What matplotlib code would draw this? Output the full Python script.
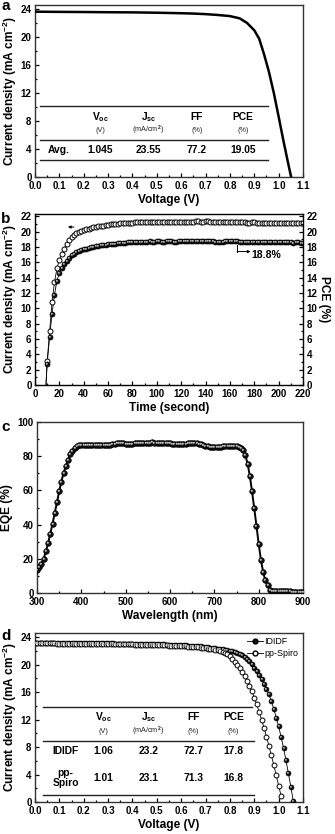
import numpy as np
import matplotlib
matplotlib.use("Agg")
import matplotlib.pyplot as plt
from matplotlib.markers import MarkerStyle
from matplotlib.transforms import Affine2D
from matplotlib.ticker import MultipleLocator, FormatStrFormatter

plt.rcParams['font.family'] = ['Liberation Sans', 'DejaVu Sans']
plt.rcParams['font.weight'] = 'bold'
plt.rcParams['axes.labelweight'] = 'bold'
plt.rcParams['mathtext.fontset'] = 'custom'
plt.rcParams['mathtext.rm'] = 'Liberation Sans:bold'
plt.rcParams['mathtext.bf'] = 'Liberation Sans:bold'
plt.rcParams['mathtext.it'] = 'Liberation Sans:bold'

# ---------------- data ----------------
# panel a: J-V curve
a_voltage = [0.0, 0.1, 0.2, 0.3, 0.4, 0.5, 0.6, 0.65, 0.7, 0.75, 0.8, 0.84, 0.87, 0.9,
             0.92, 0.94, 0.96, 0.98, 1.0, 1.02, 1.04, 1.05, 1.055]
a_current = [23.55, 23.52, 23.5, 23.47, 23.45, 23.4, 23.33, 23.28, 23.2, 23.08, 22.92, 22.6,
             21.95, 20.9, 19.7, 17.5, 15.0, 12.0, 8.6, 5.1, 1.8, 0.2, -0.6]
a_table_cols = ['V$_{oc}$', 'J$_{sc}$', 'FF', 'PCE']
a_table_units = ['(V)', '(mA/cm$^2$)', '(%)', '(%)']
a_table_rows = ['Avg.']
a_table_vals = [['1.045', '23.55', '77.2', '19.05']]

# panel b: stabilised output
b_time = [9] + list(range(10, 221, 2))
b_current = [0.0,
    3.1, 7.0, 10.8, 13.4, 15.2, 16.3, 17.1, 17.8, 18.4, 18.9,
    19.3, 19.6, 19.8, 20.0, 20.1, 20.2, 20.3, 20.4, 20.5, 20.55,
    20.6, 20.7, 20.75, 20.8, 20.85, 20.9, 20.95, 21.0, 21.0, 21.05,
    21.1, 21.1, 21.1, 21.15, 21.15, 21.15, 21.2, 21.2, 21.2, 21.2,
    21.25, 21.25, 21.3, 21.25, 21.25, 21.3, 21.3, 21.3, 21.25, 21.25,
    21.3, 21.3, 21.3, 21.25, 21.25, 21.3, 21.3, 21.3, 21.3, 21.3,
    21.3, 21.35, 21.35, 21.3, 21.3, 21.35, 21.35, 21.3, 21.3, 21.25,
    21.25, 21.25, 21.2, 21.2, 21.2, 21.2, 21.2, 21.25, 21.25, 21.2,
    21.2, 21.2, 21.15, 21.15, 21.2, 21.2, 21.15, 21.15, 21.15, 21.1,
    21.1, 21.15, 21.15, 21.1, 21.1, 21.1, 21.1, 21.15, 21.15, 21.1,
    21.1, 21.1, 21.15, 21.15, 21.1, 21.1]
b_pce = [0.0,
    2.8, 6.3, 9.3, 11.8, 13.6, 14.6, 15.3, 15.8, 16.2, 16.6,
    16.9, 17.1, 17.3, 17.45, 17.6, 17.7, 17.8, 17.9, 17.95, 18.0,
    18.1, 18.15, 18.2, 18.25, 18.3, 18.35, 18.4, 18.4, 18.45, 18.5,
    18.5, 18.55, 18.55, 18.6, 18.6, 18.6, 18.65, 18.65, 18.65, 18.7,
    18.7, 18.7, 18.75, 18.7, 18.7, 18.75, 18.75, 18.7, 18.7, 18.75,
    18.75, 18.75, 18.7, 18.7, 18.75, 18.75, 18.8, 18.8, 18.75, 18.75,
    18.75, 18.8, 18.8, 18.75, 18.75, 18.8, 18.8, 18.75, 18.75, 18.7,
    18.7, 18.7, 18.7, 18.75, 18.75, 18.75, 18.8, 18.8, 18.75, 18.7,
    18.7, 18.7, 18.65, 18.65, 18.7, 18.7, 18.65, 18.65, 18.65, 18.6,
    18.6, 18.6, 18.65, 18.65, 18.6, 18.6, 18.6, 18.65, 18.6, 18.6,
    18.6, 18.55, 18.6, 18.6, 18.55, 18.55]
b_label = '18.8%'

# panel c: EQE
c_wavelength = list(range(300, 901, 5))
c_eqe = [13.5, 15.0, 17.2, 20.0, 24.3, 29.2, 34.7, 40.5, 46.8, 53.0,
         59.5, 65.2, 70.2, 74.3, 78.0, 81.0, 83.3, 85.0, 86.0, 86.6,
         86.8, 86.8, 86.7, 86.6, 86.6, 86.5, 86.5, 86.4, 86.3, 86.3,
         86.3, 86.4, 86.5, 86.7, 87.0, 87.3, 87.5, 87.6, 87.6, 87.5,
         87.4, 87.3, 87.3, 87.4, 87.5, 87.6, 87.6, 87.6, 87.7, 87.8,
         87.9, 88.0, 88.1, 88.0, 87.9, 87.8, 87.6, 87.5, 87.5, 87.5,
         87.5, 87.4, 87.3, 87.3, 87.3, 87.3, 87.4, 87.4, 87.5, 87.5,
         87.6, 87.7, 87.7, 87.4, 87.0, 86.5, 86.0, 85.7, 85.5, 85.3,
         85.2, 85.2, 85.3, 85.5, 85.7, 85.9, 86.0, 86.1, 86.2, 86.2,
         86.0, 85.6, 85.0, 83.5, 80.5, 75.6, 68.6, 59.5, 49.5, 39.4,
         28.8, 19.5, 12.3, 7.4, 4.5, 2.0, 1.2, 1.0, 0.9, 0.9,
         0.9, 0.9, 0.9, 0.9, 0.9, 0.8, 0.8, 0.8, 0.7, 0.6,
         0.5]

# panel d: two HTMs
d_voltage_ididf = [round(0.01 * i, 2) for i in range(0, 107)]
d_current_ididf = [
    23.2, 23.2, 23.2, 23.19, 23.19, 23.19, 23.18, 23.18, 23.18, 23.17,
    23.17, 23.17, 23.16, 23.16, 23.16, 23.15, 23.15, 23.15, 23.14, 23.14,
    23.14, 23.13, 23.13, 23.12, 23.12, 23.11, 23.11, 23.1, 23.1, 23.09,
    23.09, 23.08, 23.08, 23.07, 23.07, 23.06, 23.06, 23.05, 23.05, 23.04,
    23.04, 23.03, 23.02, 23.02, 23.01, 23.0, 22.99, 22.98, 22.98, 22.97,
    22.96, 22.95, 22.94, 22.93, 22.92, 22.91, 22.9, 22.88, 22.87, 22.85,
    22.84, 22.82, 22.8, 22.78, 22.76, 22.74, 22.71, 22.68, 22.65, 22.6,
    22.56, 22.51, 22.46, 22.41, 22.36, 22.31, 22.26, 22.2, 22.14, 22.08,
    22.02, 21.95, 21.87, 21.75, 21.6, 21.38, 21.12, 20.82, 20.46, 20.05,
    19.55, 19.0, 18.45, 17.85, 17.2, 16.45, 15.65, 14.7, 13.55, 12.3,
    11.0, 9.5, 7.9, 6.1, 4.2, 2.2, 0.2]
d_voltage_spiro = [round(0.01 * i, 2) for i in range(0, 102)]
d_current_spiro = [
    23.1, 23.1, 23.1, 23.09, 23.09, 23.09, 23.08, 23.08, 23.08, 23.07,
    23.07, 23.07, 23.06, 23.06, 23.06, 23.05, 23.05, 23.05, 23.04, 23.04,
    23.04, 23.03, 23.03, 23.02, 23.02, 23.01, 23.01, 23.0, 23.0, 22.99,
    22.99, 22.98, 22.98, 22.97, 22.97, 22.96, 22.95, 22.95, 22.94, 22.93,
    22.93, 22.92, 22.91, 22.9, 22.89, 22.88, 22.87, 22.86, 22.85, 22.84,
    22.83, 22.82, 22.81, 22.8, 22.79, 22.77, 22.76, 22.74, 22.72, 22.7,
    22.68, 22.66, 22.64, 22.62, 22.59, 22.56, 22.53, 22.5, 22.46, 22.42,
    22.38, 22.33, 22.28, 22.22, 22.15, 22.07, 21.98, 21.87, 21.73, 21.5,
    21.2, 20.85, 20.45, 20.0, 19.5, 18.95, 18.35, 17.65, 16.9, 16.1,
    15.2, 14.2, 13.1, 12.0, 10.8, 9.5, 8.2, 6.8, 5.4, 3.9,
    2.4, 0.9]
d_series = ['IDIDF', 'pp-Spiro']
d_table_rows = ['IDIDF', 'pp-\nSpiro']
d_table_vals = [['1.06', '23.2', '72.7', '17.8'],
                ['1.01', '23.1', '71.3', '16.8']]

# ---------------- figure ----------------
W, H = 335, 834
fig = plt.figure(figsize=(W / 100, H / 100), dpi=100)


def ax_at(l, r, t, b):
    return fig.add_axes([l / W, 1 - b / H, (r - l) / W, (b - t) / H])


TICK_FS = 7.0
LAB_FS = 8.6
JLABEL = 'Current density (mA cm$^{-2}$)'

hl = MarkerStyle('o', transform=Affine2D().scale(0.38).translate(-0.13, 0.13))


def style(ax, right=False):
    ax.tick_params(which='both', direction='in', top=False, right=right,
                   labelsize=TICK_FS, width=0.9)
    ax.tick_params(axis='x', which='both', pad=3.2)
    ax.tick_params(axis='y', which='both', pad=2.5)
    ax.tick_params(which='major', length=3.0)
    ax.tick_params(which='minor', length=1.6)
    for s in ax.spines.values():
        s.set_linewidth(1.0)
        s.set_color('#333333')
    for lab in ax.get_xticklabels() + ax.get_yticklabels():
        lab.set_fontweight('bold')


def spheres(ax, x, y, ms, **kw):
    ax.plot(x, y, 'o', ms=ms, mfc='#111111', mec='black', mew=0.5, zorder=4, **kw)
    ax.plot(x, y, ls='none', marker=hl, ms=ms, mfc='#bdbdbd', mec='none', zorder=5, **kw)


def table(ax, xs, ytop, ymid, ybot, xl, xr, yh, yu, lab_x, rows, vals, row_y, fs=7.4):
    for yy, xe in zip([ytop, ymid, ybot], xr):
        ax.plot([xl, xe], [yy, yy], color='#222222', lw=1.0, zorder=2)
    for x, c, u in zip(xs, a_table_cols, a_table_units):
        ax.text(x, yh, c, ha='center', va='center', fontsize=fs, fontweight='bold')
        ax.text(x, yu, u, ha='center', va='center', fontsize=5.2, fontweight='normal',
                color='#222222')
    for r, v, yy in zip(rows, vals, row_y):
        ax.text(lab_x, yy, r, ha='center', va='center', fontsize=fs, fontweight='bold',
                linespacing=1.0)
        for x, s in zip(xs, v):
            ax.text(x, yy, s, ha='center', va='center', fontsize=fs, fontweight='bold')


# ---- panel a ----
axa = ax_at(35, 303, 5, 177)
axa.plot(a_voltage, a_current, color='black', lw=1.8, solid_capstyle='butt', zorder=3)
axa.set_xlim(0, 1.1)
axa.set_ylim(0, 24.5)
axa.xaxis.set_major_locator(MultipleLocator(0.1))
axa.xaxis.set_minor_locator(MultipleLocator(0.05))
axa.yaxis.set_major_locator(MultipleLocator(4))
axa.yaxis.set_minor_locator(MultipleLocator(2))
axa.xaxis.set_major_formatter(FormatStrFormatter('%.1f'))
axa.set_xlabel('Voltage (V)', fontsize=LAB_FS, labelpad=1.5)
axa.set_ylabel(JLABEL, fontsize=LAB_FS, labelpad=1)
table(axa, [0.267, 0.466, 0.664, 0.855], 10.1, 5.3, 2.4, 0.02, [0.955, 0.955, 0.955],
      8.5, 6.6, 0.096, a_table_rows, a_table_vals, [3.8])
style(axa)

# ---- panel b ----
axb = ax_at(35, 303, 214, 385)
axb.plot(b_time, b_current, color='black', lw=0.6, zorder=3)
axb.plot(b_time[1:], b_current[1:], 'o', ms=3.6, mfc='white', mec='black', mew=0.7, zorder=4)
axb.plot(b_time, b_pce, color='black', lw=0.6, zorder=3)
spheres(axb, b_time[1:], b_pce[1:], 3.6)
axb.set_xlim(0, 220)
axb.set_ylim(0, 22.3)
axb.xaxis.set_major_locator(MultipleLocator(20))
axb.xaxis.set_minor_locator(MultipleLocator(10))
axb.yaxis.set_major_locator(MultipleLocator(2))
axb.yaxis.set_minor_locator(MultipleLocator(1))
axb.set_xlabel('Time (second)', fontsize=LAB_FS, labelpad=1.5)
axb.set_ylabel(JLABEL, fontsize=LAB_FS, labelpad=1)
style(axb, right=True)
axb2 = axb.twinx()
axb2.set_ylim(0, 22.3)
axb2.yaxis.set_major_locator(MultipleLocator(2))
axb2.yaxis.set_minor_locator(MultipleLocator(1))
axb2.set_ylabel('PCE (%)', fontsize=LAB_FS, rotation=270, labelpad=9)
axb2.tick_params(which='both', direction='in', labelsize=TICK_FS, width=0.9, pad=2.5)
axb2.tick_params(which='major', length=3.0)
axb2.tick_params(which='minor', length=1.6)
for lab in axb2.get_yticklabels():
    lab.set_fontweight('bold')
axb.annotate('', xy=(27, 20.6), xytext=(32, 20.6),
             arrowprops=dict(arrowstyle='-|>', color='black', lw=0.7,
                             mutation_scale=4, shrinkA=0, shrinkB=0))
axb.plot([166, 166], [18.3, 17.4], color='black', lw=0.7)
axb.annotate('', xy=(177, 17.4), xytext=(166, 17.4),
             arrowprops=dict(arrowstyle='-|>', color='black', lw=0.7,
                             mutation_scale=4, shrinkA=0, shrinkB=0))
axb.text(178, 16.9, b_label, fontsize=7.6, fontweight='bold', va='center', ha='left')

# ---- panel c ----
axc = ax_at(37, 303, 422, 593)
axc.plot(c_wavelength, c_eqe, color='black', lw=1.4, zorder=3)
spheres(axc, c_wavelength, c_eqe, 4.0)
axc.set_xlim(300, 900)
axc.set_ylim(0, 100)
axc.xaxis.set_major_locator(MultipleLocator(100))
axc.xaxis.set_minor_locator(MultipleLocator(50))
axc.yaxis.set_major_locator(MultipleLocator(20))
axc.yaxis.set_minor_locator(MultipleLocator(10))
axc.set_xlabel('Wavelength (nm)', fontsize=LAB_FS, labelpad=1.5)
axc.set_ylabel('EQE (%)', fontsize=LAB_FS, labelpad=3)
style(axc)

# ---- panel d ----
axd = ax_at(35, 303, 633, 802)
axd.plot(d_voltage_ididf, d_current_ididf, color='black', lw=0.6, zorder=3)
spheres(axd, d_voltage_ididf, d_current_ididf, 3.5)
axd.plot(d_voltage_spiro, d_current_spiro, color='black', lw=0.6, zorder=3)
axd.plot(d_voltage_spiro, d_current_spiro, 'o', ms=3.5, mfc='white', mec='black', mew=0.7,
         zorder=4)
axd.set_xlim(0, 1.1)
axd.set_ylim(0, 24.6)
axd.xaxis.set_major_locator(MultipleLocator(0.1))
axd.xaxis.set_minor_locator(MultipleLocator(0.05))
axd.yaxis.set_major_locator(MultipleLocator(4))
axd.yaxis.set_minor_locator(MultipleLocator(2))
axd.xaxis.set_major_formatter(FormatStrFormatter('%.1f'))
axd.set_xlabel('Voltage (V)', fontsize=LAB_FS, labelpad=1.5)
axd.set_ylabel(JLABEL, fontsize=LAB_FS, labelpad=1)
table(axd, [0.28, 0.466, 0.65, 0.815], 13.85, 8.9, 1.05, 0.034, [0.89, 0.897, 0.897],
      12.3, 10.3, 0.126, d_table_rows, d_table_vals, [7.4, 3.5])
# legend handles
h1, = axd.plot([], [], '-o', color='black', lw=0.6, ms=3.5, mfc='#111111', mec='black')
h2, = axd.plot([], [], '-o', color='black', lw=0.6, ms=3.5, mfc='white', mec='black')
leg = axd.legend([h1, h2], d_series, loc='upper right', frameon=False,
                 prop={'size': 6.4, 'weight': 'normal'}, handlelength=1.8,
                 handletextpad=0.2, borderaxespad=0.1, labelspacing=0.25)
style(axd)

# panel letters
for letter, ybase in zip('abcd', [10, 223, 431, 640]):
    fig.text(1 / W, 1 - ybase / H, letter, fontsize=11, fontweight='bold',
             ha='left', va='baseline')

fig.savefig('out.png', dpi=100)
